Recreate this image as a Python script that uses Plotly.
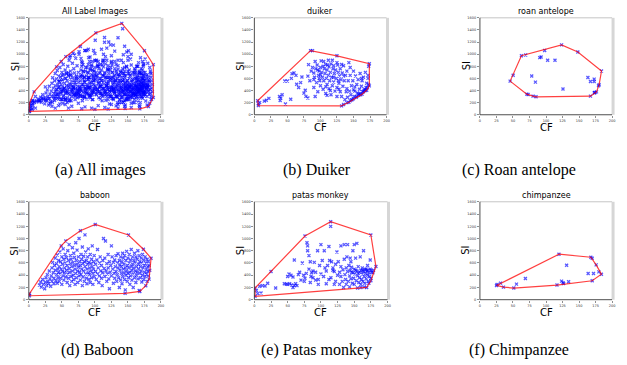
import plotly.graph_objects as go

# ---------------- data (CF, SI) ----------------
roan = [(45.7,555),(50.3,652),(62.8,975),(69.3,986),(98,1061),(123.6,1153),(148.2,1035),(184,722),
        (180.4,496),(179.5,480),(176.4,377),(174,365),(172.9,361),(167.3,307),(84.9,296),(80.4,307),
        (72.9,334),(70.9,340),(90.5,943),(92.6,954),(102.5,900),(113.6,900),(78.4,641),(84,539),
        (125.7,426),(163.4,615),(167.3,550),(172.9,588),(172.9,550),(173.9,367)]

chimp = [(25.1,233),(26,249),(31.2,271),(35.7,206),(51.3,190),(55.3,255),(68.8,347),(119.6,743),
         (131.2,564),(123.6,304),(125.7,276),(126.7,266),(134.2,293),(116.6,239),(163.8,428),
         (171.9,428),(167.9,694),(169.9,678),(175.9,569),(180,455),(183.9,417),(169.9,309)]

duiker = [(5,232),(6,151),(6,180),(8,200),(15,225),(18,240),(22,270),(38,300),(39,235),(40,275),
          (42,330),(47,178),(55,255),(46,557),(50,557),(56,600),(57,676),(60,692),(63,650),(64,503),
          (67,450),(70,530),(72,622),(75,357),(77,405),(78,303),(81,276),(81,638),(82,827),
          (85,1059),(88,1059),(125,973),(174,843),(174,476),(170,405),(163,340),(143,205),(132,146),
          (84,560),(86,720),(88,780),(90,690),(90,450),(91,620),(92,300),(93,760),(94,530),(95,820),
          (96,380),(97,650),(98,720),(99,560),(100,480),(100,780),(101,890),(102,700),(103,620),
          (104,420),(104,800),(105,560),(106,760),(107,680),(108,350),(108,830),(109,600),(110,500),
          (110,740),(111,820),(112,650),(113,430),(113,790),(114,560),(115,700),(116,840),(116,330),
          (117,620),(118,480),(119,760),(120,540),(120,810),(121,680),(122,390),(123,740),(124,600),
          (125,450),(125,300),(126,820),(127,700),(128,520),(129,640),(130,760),(130,380),(131,580),
          (132,300),(133,690),(134,470),(135,810),(136,560),(137,250),(138,650),(139,380),(140,720),
          (140,430),(141,290),(142,560),(143,860),(144,390),(145,650),(146,330),(147,480),(148,250),
          (149,560),(150,410),(150,720),(151,300),(152,390),(153,640),(154,290),(155,500),(156,360),
          (157,580),(158,320),(159,420),(160,680),(161,330),(162,470),(163,560),(164,380),(165,620),
          (166,400),(167,420),(168,700),(169,450),(170,520),(171,450),(172,600),(173,800),(173,500),
          (172,650),(160,350),(155,300),(150,265),(145,230),(140,200),(135,170),(147,245),(158,340),
          (165,380),(168,400),(92,880),(98,600),(105,880),(112,900),(118,900),(125,860),(132,830),
          (120,620),(100,660),(96,740),(108,460),(115,400),(127,560),(135,640),(145,780),(152,460),
          (162,600),(128,420),(110,320),(90,580)]

patas = [(1,54),(1,190),(76,1041),(114.6,1274),(175,1057),(182.6,542),(175,309),(168.7,200),
         (114.6,1198),(3,150),(5,100),(10,110),(8,220),(12,230),(16,225),(20,270),(25,460),(32,190),
         (45,260),(48,255),(50,250),(53,260),(56,240),(58,200),(60,230),(62,260),(64,230),(66,410),
         (58,370),(55,400),(50,380),(52,420),(60,650),(68,450),(70,320),(72,600),(74,400),(75,300),
         (76,350),(78,430),(79,930),(80,880),(80,800),(82,720),(82,500),(84,280),(85,380),(86,440),
         (88,360),(90,610),(92,450),(95,800),(96,330),(98,560),(100,420),(100,900),(102,640),
         (104,380),(105,800),(108,470),(110,560),(112,870),(113,640),(115,360),(116,620),(118,520),
         (120,250),(120,460),(122,580),(122,300),(124,780),(125,400),(126,620),(128,450),(128,250),
         (130,540),(130,380),(132,300),(133,490),(134,200),(135,660),(135,900),(136,410),(137,330),
         (138,520),(138,250),(139,700),(140,460),(140,900),(141,300),(142,560),(143,390),(143,210),
         (144,480),(145,620),(145,340),(146,530),(147,270),(148,440),(148,800),(149,350),(150,500),
         (150,250),(151,420),(152,680),(153,310),(154,470),(154,920),(155,390),(156,540),(157,280),
         (158,450),(158,360),(159,700),(160,480),(160,250),(161,330),(162,520),(162,420),(163,300),
         (164,460),(164,800),(165,380),(166,500),(166,270),(167,430),(168,340),(169,470),(170,560),
         (170,400),(171,300),(172,440),(173,380),(174,500),(174,650),(176,450),(178,440),(179,480),
         (175,350),(172,270),(160,200),(165,210),(155,190),(150,900),(144,680),(130,880),(118,480),
         (106,520),(92,320),(88,470),(84,620),(96,250),(108,260),(112,330),(146,450),(152,480),
         (156,430),(163,480),(168,500),(170,480),(175,480)]

baboon = [(1,65),(1,98),(16,240),(18,290),(19,205),(21,330),(22,250),(24,180),(25,285),(26,360),
          (27,230),(28,410),(29,300),(30,265),(31,470),(32,340),(33,220),(34,390),(35,520),(35,300),
          (36,610),(37,440),(38,260),(38,350),(39,560),(40,480),(40,680),(41,310),(42,410),(42,590),
          (43,270),(43,730),(44,500),(44,360),(45,640),(45,450),
          (46,300),(46,540),(47,780),(47,420),(48,620),(48,350),(49,880),(49,500),(50,250),(50,700),
          (51,460),(51,580),(52,390),(52,830),(53,660),(53,320),(54,520),(54,440),(55,740),(55,600),
          (56,959),(56,370),(57,480),(57,690),(58,280),(58,560),(59,420),(59,800),(60,640),(60,350),
          (61,510),(61,900),(62,230),(62,450),(63,720),(63,590),(64,380),(64,660),(65,300),(65,540),
          (66,850),(66,470),(67,610),(67,400),(68,760),(68,330),(69,560),(69,690),(70,250),(70,500),
          (71,430),(71,930),(72,640),(72,360),(73,580),(73,810),(74,470),(74,280),(75,700),(75,530),
          (76,390),(76,1000),(77,620),(77,450),(78,1127),(78,320),(78,560),(79,740),(79,410),
          (80,660),(80,500),(81,230),(81,860),(82,590),(82,370),(83,470),(83,710),(84,300),(84,620),
          (85,540),(85,1060),(86,420),(86,780),(87,350),(87,640),(88,500),(88,260),(89,700),(89,580),
          (90,440),(90,830),(91,330),(91,610),(92,520),(92,410),(93,740),(93,280),(94,590),(94,470),
          (95,360),(95,660),(96,540),(96,880),(97,430),(97,250),(98,620),(98,500),(99,380),(99,720),
          (100.5,1230),(101,460),(101,580),(102,330),(103,650),(104,420),(104,820),(105,520),
          (106,280),(107,600),(107,390),(108,700),(109,470),(110,350),(110,560),(111,230),(112,640),
          (112,440),(113,1000),(114,510),(115,380),(115,680),(116,960),(117,470),(118,300),(118,590),
          (119,420),(120,740),(120,520),(121,340),(122,620),(122,180),(123,450),(124,560),(125,880),
          (125,390),(126,700),(127,500),(128,270),(128,610),(129,430),(130,650),(130,350),(131,540),
          (132,720),(132,460),(133,300),(134,600),(134,410),(135,750),(135,520),(136,360),(137,640),
          (137,200),(138,480),(138,570),(139,700),(139,320),(140,540),(140,430),
          (141,620),(141,260),(142,760),(142,380),(143,500),(143,680),(144,440),(144,580),(145,330),
          (145,720),(145.7,103),(146,520),(146,160),(147,640),(147,400),(148,790),(148,470),(149,560),
          (149,300),(150,680),(150,430),(150.8,1057),(151,520),(151,360),(152,740),(152,600),
          (153,450),(153,250),(154,650),(154,390),(155,540),(155,820),(156,480),(156,320),(157,700),
          (157,580),(158,420),(158,200),(159,640),(159,520),(160,360),(160,760),(161,470),(161,600),
          (162,280),(162,700),(163,540),(163,400),(164,660),(164,450),(165,800),(165,340),(166,580),
          (166,500),(167,150),(167,720),(168,135),(168,430),(168,620),(169,360),(169,540),(170,680),
          (170,470),(171,290),(171,600),(172,740),(172,400),(173.4,824),(173,520),(174,650),
          (174,330),(175,560),(175,450),(176,700),(176,380),(177,228),(177,600),(178,500),(178,420),
          (179,660),(179,300),(180,540),(180,460),(181,620),(181,390),(182,336),(182,560),(183,480),
          (185,678)]

# other label images (not in the five species panels)
other = [(0.5,65),(2,150),(1,110),(4,200),(8,378),(6,240),(10,300),(12,210),(14,260),(5,90),
         (42,790),(67,1016),(101.5,1351),(140.7,1508),(188.4,827),(188.4,286),(181,135),(168,97),
         (142,1420),(121,1200),(135,1270),(118,1100),(130,1050),(145,1130),(143,990),(150,960),
         (90,1080),(110,1080),(100,1010),(62,950),(128,1150),(155,1000),
         (40,380),(42,420),(44,330),(46,460),(48,370),(50,410),(52,300),(54,440),(56,350),(58,390),
         (60,470),(62,330),(64,410),(66,360),(68,440),(70,300),(72,380),(74,420),(76,340),(78,460),
         (80,390),(82,310),(84,430),(86,370),(88,410),(90,350),(92,450),(94,320),(96,400),(98,370),
         (100,430),(102,340),(104,390),(106,460),(108,360),(110,410),(112,300),(114,440),(116,380),
         (118,350),(120,420),(122,390),(124,330),(126,460),(128,400),(130,360),(132,430),(134,310),
         (136,390),(138,450),(140,370),(142,410),(144,340),(146,430),(148,390),(150,310),(152,460),
         (154,370),(156,420),(158,350),(160,400),(162,330),(164,450),(166,380),(168,420),(170,350),
         (172,460),(174,390),(176,330),(178,430),(180,370),(182,410),(184,350),(186,440),(187,380),
         (185,300),(185,250),(186,260),(183,190),(179,160),(187,500),(186,560),(185,620),(184,700),
         (183,780),(180,850),(176,920),(172,880),(169,940),(166,860),(163,800),(170,760),(174,700),
         (178,640),(181,580),(177,520),(173,600),(167,680),(161,740),(165,560),(171,520),
         (30,160),(35,140),(45,150),(55,170),(65,140),(75,190),(85,130),(95,110),(105,150),
         (115,120),(125,170),(135,110),(145,140),(155,120),(100,90),(120,95),(60,110),(40,110),(80,100)]

all_images = baboon + duiker + patas + roan + chimp + other

titles = ["All Label Images", "duiker", "roan antelope", "baboon", "patas monkey", "chimpanzee"]
captions = ["(a) All images", "(b) Duiker", "(c) Roan antelope",
            "(d) Baboon", "(e) Patas monkey", "(f) Chimpanzee"]
datasets = [all_images, duiker, roan, baboon, patas, chimp]
x_ticks = [0, 25, 50, 75, 100, 125, 150, 175, 200]
y_ticks = [0, 200, 400, 600, 800, 1000, 1200, 1400, 1600]

# ---------------- layout geometry (pixels) ----------------
W, H = 627, 365
boxes = [(28, 161, 16, 114), (255, 388, 16, 114), (482, 615, 16, 114),
         (28, 161, 202, 301), (255, 389, 202, 301), (482, 615, 202, 301)]
cap_pos = [(100, 170), (318, 170), (521, 170), (97, 352), (318, 352), (521, 352)]


def convex_hull(pts):
    p = sorted(set(pts))
    def cross(o, a, b):
        return (a[0]-o[0])*(b[1]-o[1]) - (a[1]-o[1])*(b[0]-o[0])
    lower, upper = [], []
    for q in p:
        while len(lower) >= 2 and cross(lower[-2], lower[-1], q) <= 0:
            lower.pop()
        lower.append(q)
    for q in reversed(p):
        while len(upper) >= 2 and cross(upper[-2], upper[-1], q) <= 0:
            upper.pop()
        upper.append(q)
    h = lower[:-1] + upper[:-1]
    return h + [h[0]]


fig = go.Figure()
layout = dict(width=W, height=H, margin=dict(l=0, r=0, t=0, b=0),
              paper_bgcolor="white", plot_bgcolor="white", showlegend=False,
              font=dict(family="DejaVu Sans", color="black"))
annotations = []
shapes = []

for i, (pts, (l, r, t, b)) in enumerate(zip(datasets, boxes), start=1):
    sx = "" if i == 1 else str(i)
    xs = [p[0] for p in pts]
    ys = [p[1] for p in pts]
    fig.add_trace(go.Scatter(x=xs, y=ys, mode="markers", xaxis="x"+sx, yaxis="y"+sx,
                             marker=dict(symbol="x-thin", size=3,
                                         line=dict(width=1.3, color="rgba(0,0,255,0.65)")),
                             hoverinfo="skip"))
    hull = convex_hull(pts)
    fig.add_trace(go.Scatter(x=[p[0] for p in hull], y=[p[1] for p in hull], mode="lines",
                             xaxis="x"+sx, yaxis="y"+sx,
                             line=dict(color="rgba(255,0,0,0.75)", width=1.2),
                             hoverinfo="skip"))
    axcommon = dict(showgrid=False, zeroline=False, showline=False,
                    ticks="outside", ticklen=2, tickwidth=0.6, tickcolor="#444",
                    tickfont=dict(size=3.5, color="#333", family="DejaVu Sans"))
    layout["xaxis"+sx] = dict(domain=[l/W, r/W], anchor="y"+sx, range=[0, 200],
                              tickvals=x_ticks, fixedrange=True, **axcommon)
    layout["yaxis"+sx] = dict(domain=[1-b/H, 1-t/H], anchor="x"+sx, range=[0, 1600],
                              tickvals=y_ticks, fixedrange=True, **axcommon)
    # frame: dark left/bottom, light top, thick light-grey right
    xl, xr, yt, yb = l/W, r/W, 1-t/H, 1-b/H
    shapes += [
        dict(type="line", xref="paper", yref="paper", x0=xl, x1=xr, y0=yt, y1=yt,
             line=dict(color="#b5b5b5", width=0.8)),
        dict(type="line", xref="paper", yref="paper", x0=(r+1)/W, x1=(r+1)/W, y0=yb, y1=yt,
             line=dict(color="#d6d6d6", width=3)),
        dict(type="line", xref="paper", yref="paper", x0=xl, x1=xl, y0=yb, y1=yt,
             line=dict(color="#222", width=0.8)),
        dict(type="line", xref="paper", yref="paper", x0=xl, x1=xr, y0=yb, y1=yb,
             line=dict(color="#222", width=0.8)),
    ]
    cx = (l + r) / 2
    annotations.append(dict(text=titles[i-1], x=cx/W, y=1-(t-6)/H, xref="paper", yref="paper",
                            showarrow=False, xanchor="center", yanchor="middle",
                            font=dict(size=8, family="DejaVu Sans")))
    annotations.append(dict(text="CF", x=cx/W, y=1-(b+12.5)/H, xref="paper", yref="paper",
                            showarrow=False, xanchor="center", yanchor="middle",
                            font=dict(size=10, family="DejaVu Sans")))
    annotations.append(dict(text="SI", x=(l-14)/W, y=1-((t+b)/2)/H, xref="paper", yref="paper",
                            showarrow=False, xanchor="center", yanchor="middle", textangle=-90,
                            font=dict(size=10, family="DejaVu Sans")))
    cxp, cyp = cap_pos[i-1]
    annotations.append(dict(text=captions[i-1], x=cxp/W, y=1-cyp/H, xref="paper", yref="paper",
                            showarrow=False, xanchor="center", yanchor="middle",
                            font=dict(size=16, family="Liberation Serif")))

layout["annotations"] = annotations
layout["shapes"] = shapes
fig.update_layout(**layout)
fig.write_html("out.html", config={"displayModeBar": False, "staticPlot": True},
               post_script="document.body.style.margin='0px';document.body.style.overflow='hidden';")
